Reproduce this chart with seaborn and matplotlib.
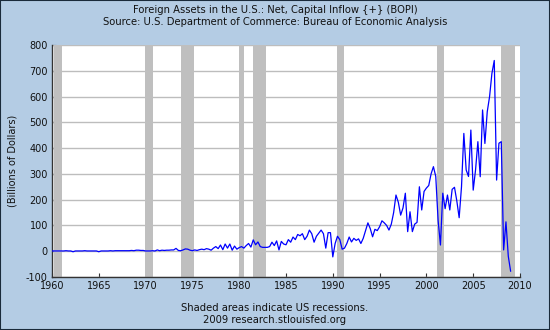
import numpy as np
import pandas as pd
import matplotlib
matplotlib.use("Agg")
import matplotlib.pyplot as plt
import seaborn as sns

# Quarterly values, billions of dollars (1960Q1 .. 2009Q1)
vals_1960s = [1, 1, 1, 1,  1, 1, 2, 1,  1, -2, 1, 1,  1, 1, 2, 1,  1, 1, 1, 1,
              -2, 1, 1, 1,  1, 2, 1, 2,  2, 2, 2, 2,  2, 2, 3, 2,  4, 4, 3, 3]
vals_1970s = [1, 1, 1, 2,  1, 5, 2, 4,  3, 4, 4, 5,  5, 11, 3, 2,  5, 9, 8, 4,
              2, 5, 3, 6,  8, 6, 10, 8,  4, 12, 18, 10,  24, 6, 28, 12,  28, 4, 20, 8]
vals_1980s = [14, 18, 12, 22,  30, 16, 44, 25,  36, 18, 15, 15,  15, 18, 35, 22,
              40, 5, 38, 28,  25, 45, 35, 55,  45, 65, 60, 68,  45, 58, 82, 68,
              35, 58, 70, 82,  68, 12, 72, 72]
vals_1990s = [-22, 30, 58, 45,  8, 12, 30, 55,  36, 50, 42, 48,  30, 50, 80, 110,
              88, 56, 85, 80,  95, 118, 110, 100,  82, 105, 150, 218,
              190, 140, 168, 225,  76, 153, 76, 105,  112, 250, 160, 232]
vals_2000s = [245, 255, 300, 328,  290, 120, 24, 225,  165, 218, 160, 240,
              248, 195, 130, 250,  457, 315, 290, 470,  237, 315, 425, 289,
              548, 418, 541, 600,  690, 740, 276, 419,  425, 5, 114, -20,  -78]

values = vals_1960s + vals_1970s + vals_1980s + vals_1990s + vals_2000s
periods = pd.period_range("1960Q1", periods=len(values), freq="Q")
years = periods.year + (periods.quarter - 1) / 4.0

rec_start = [1960.25, 1969.92, 1973.83, 1980.0, 1981.5, 1990.5, 2001.17, 2007.92]
rec_end   = [1961.08, 1970.83, 1975.17, 1980.5, 1982.83, 1991.17, 2001.83, 2009.42]

x_ticks = [1960, 1965, 1970, 1975, 1980, 1985, 1990, 1995, 2000, 2005, 2010]
y_ticks = [-100, 0, 100, 200, 300, 400, 500, 600, 700, 800]

title = "Foreign Assets in the U.S.: Net, Capital Inflow {+} (BOPI)\nSource: U.S. Department of Commerce: Bureau of Economic Analysis"
ylabel = "(Billions of Dollars)"
footer = "Shaded areas indicate US recessions.\n2009 research.stlouisfed.org"

df = pd.DataFrame({"year": years, "value": values})

sns.set_theme(style="white")
plt.rcParams["font.family"] = ["DejaVu Sans"]

bg = "#B4CCE4"
fig = plt.figure(figsize=(5.5, 3.3), dpi=100, facecolor=bg)
ax = fig.add_axes([52/550, 53/330, 468/550, 232/330])
ax.set_facecolor("white")

for yv in y_ticks:
    ax.axhline(yv, color="#BDBDBD", lw=1.0, zorder=1)
for s, e in zip(rec_start, rec_end):
    ax.axvspan(s, e, color="#BFBFBF", lw=0, zorder=2)

sns.lineplot(data=df, x="year", y="value", ax=ax, color="#0000FF", lw=0.9, zorder=3)

ax.set_xlim(1960, 2010)
ax.set_ylim(-100, 800)
ax.set_xticks(x_ticks)
ax.set_yticks(y_ticks)
ax.set_xticklabels([str(t) for t in x_ticks], fontsize=7)
ax.set_yticklabels([str(t) for t in y_ticks], fontsize=7)
ax.tick_params(axis="both", direction="in", length=3, width=0.8, colors="#333333",
               labelcolor="#111111", pad=3)
ax.tick_params(left=True, bottom=True)
ax.set_xlabel("")
ax.set_ylabel(ylabel, fontsize=7, color="#111111", labelpad=6)
for side in ["top", "right"]:
    ax.spines[side].set_visible(False)
for side in ["left", "bottom"]:
    ax.spines[side].set_color("#333333")
    ax.spines[side].set_linewidth(1.0)

fig.text(0.5, 1 - 16/330, title, ha="center", va="center", fontsize=7.2,
         color="#111111", linespacing=1.35)
fig.text(0.5, 1 - 314/330, footer, ha="center", va="center", fontsize=7.2,
         color="#111111", linespacing=1.35)

border = plt.Rectangle((0, 0), 1, 1, transform=fig.transFigure, fill=False,
                       edgecolor="#1a2a3a", lw=1.5)
fig.patches.append(border)

fig.savefig("out.png", dpi=100, facecolor=bg)
